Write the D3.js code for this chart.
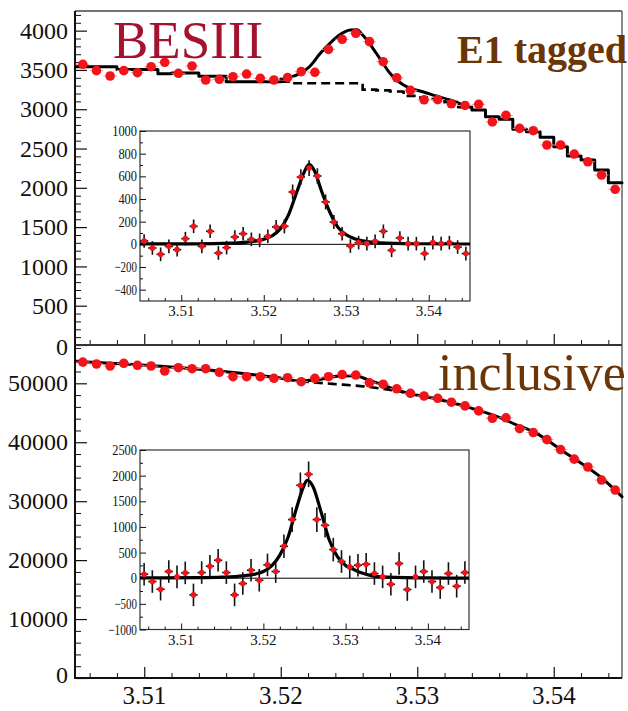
<!DOCTYPE html>
<html>
<head>
<meta charset="utf-8">
<script src="https://cdn.jsdelivr.net/npm/d3@7/dist/d3.min.js"></script>
<style>
  html, body { margin: 0; padding: 0; background: #fff; }
  text { font-family: "Liberation Serif", "Times New Roman", Times, serif; }
</style>
</head>
<body>
<svg id="chart" width="628" height="711"></svg>
<script>
// Invariant-mass bins (GeV), 1 MeV wide
const massBins = [3.5055, 3.5065, 3.5075, 3.5085, 3.5095, 3.5105, 3.5115, 3.5125, 3.5135, 3.5145,
                  3.5155, 3.5165, 3.5175, 3.5185, 3.5195, 3.5205, 3.5215, 3.5225, 3.5235, 3.5245,
                  3.5255, 3.5265, 3.5275, 3.5285, 3.5295, 3.5305, 3.5315, 3.5325, 3.5335, 3.5345,
                  3.5355, 3.5365, 3.5375, 3.5385, 3.5395, 3.5405, 3.5415, 3.5425, 3.5435, 3.5445];
const binWidth = 0.001;

// E1-tagged sample
const e1Counts = [3572, 3491, 3423, 3491, 3465, 3541, 3597, 3457, 3550, 3372,
                  3381, 3414, 3448, 3393, 3372, 3402, 3478, 3470, 3762, 3890,
                  3966, 3860, 3605, 3400, 3240, 3120, 3122, 3070, 3048, 3063,
                  2838, 2922, 2757, 2727, 2545, 2545, 2430, 2332, 2163, 1981];
const e1Background = [3540, 3540, 3540, 3505, 3505, 3505, 3450, 3460, 3460, 3420,
                      3420, 3350, 3350, 3350, 3350, 3350, 3330, 3330, 3330, 3330,
                      3330, 3250, 3240, 3225, 3170, 3150, 3130, 3090, 3030, 2990,
                      2905, 2872, 2744, 2714, 2642, 2523, 2405, 2354, 2227, 2065];
// total fit across the signal region
const e1FitPeak = [[3.5200, 3385], [3.5207, 3406], [3.5214, 3457], [3.5221, 3541], [3.5229, 3712],
                   [3.5236, 3839], [3.5243, 3944], [3.5251, 4008], [3.5256, 4010], [3.5260, 3944],
                   [3.5265, 3839], [3.5270, 3712], [3.5275, 3584], [3.5280, 3457], [3.5285, 3372],
                   [3.5290, 3308], [3.5295, 3266], [3.5304, 3223], [3.5314, 3168], [3.5324, 3117],
                   [3.5335, 3041]];

// Inclusive sample
const inclCounts = [53600, 53275, 52935, 53393, 53054, 52935, 52087, 52652, 52483, 52483,
                    51866, 51120, 51120, 51120, 50849, 50950, 50272, 50849, 51120, 51490,
                    51400, 50080, 49850, 49070, 48303, 47845, 47455, 46790, 46170, 45320,
                    44062, 44150, 42300, 41650, 40440, 38740, 37130, 35800, 33590, 31897];
const inclFit = [[3.5050, 53700], [3.5098, 53105], [3.5147, 52256], [3.5171, 51697], [3.5196, 51018],
                 [3.5214, 50400], [3.5229, 50679], [3.5243, 51239], [3.5255, 51290], [3.5263, 50679],
                 [3.5275, 49712], [3.5287, 48693], [3.5312, 47455], [3.5336, 46030], [3.5360, 44232],
                 [3.5373, 42925], [3.5385, 41788], [3.5409, 38124], [3.5434, 34154], [3.5450, 30760]];
const inclBackground = [[3.5214, 50330], [3.5238, 49900], [3.5263, 49423], [3.5287, 48650]];

// Background-subtracted spectra (insets)
const e1Sub = [30, -32, -88, -18, -47, 50, 159, -18, 115, -76,
               -29, 65, 94, 44, 35, 71, 153, 159, 462, 594,
               673, 603, 374, 197, 94, -15, 15, 6, 26, 115,
               -53, 56, 6, 6, -82, 15, 6, 15, -24, -82];
const e1SubErr = [60, 60, 60, 60, 60, 60, 60, 60, 60, 60,
                  60, 60, 60, 60, 60, 60, 62, 62, 66, 68,
                  70, 68, 66, 62, 60, 60, 60, 60, 60, 60,
                  60, 60, 60, 60, 60, 60, 60, 60, 60, 60];
const e1SubFit = [[3.505, 4], [3.512, 4], [3.516, 10], [3.518, 20], [3.520, 45], [3.521, 75],
                  [3.522, 135], [3.523, 260], [3.524, 460], [3.5248, 620], [3.5255, 705],
                  [3.5262, 640], [3.527, 470], [3.528, 285], [3.529, 150], [3.530, 85],
                  [3.531, 50], [3.532, 30], [3.534, 12], [3.538, 5], [3.545, 3]];

const inclSub = [78, -65, -214, 130, 26, 104, -325, 110, 234, 351,
                 110, -325, -104, 156, -39, 260, 130, 623, 1143, 1812,
                 2026, 1143, 1032, 558, 325, 221, 253, 273, 91, 26,
                 -117, 286, -221, 26, 130, -65, -182, 91, -156, 110];
const inclSubErr = [220, 220, 220, 220, 220, 220, 220, 220, 220, 220,
                    220, 220, 220, 220, 220, 220, 220, 230, 240, 250,
                    250, 240, 240, 230, 220, 220, 220, 220, 220, 220,
                    220, 220, 220, 220, 220, 220, 220, 220, 220, 220];
const inclSubFit = [[3.505, 5], [3.512, 10], [3.515, 20], [3.5175, 45], [3.519, 80], [3.520, 130],
                    [3.521, 240], [3.522, 450], [3.523, 800], [3.524, 1350], [3.5248, 1750],
                    [3.5253, 1910], [3.526, 1800], [3.527, 1300], [3.528, 750], [3.529, 420],
                    [3.530, 250], [3.531, 170], [3.532, 100], [3.533, 55], [3.535, 20],
                    [3.540, 5], [3.545, 3]];

// Axis ticks
const xTicks = [3.51, 3.52, 3.53, 3.54];
const topYTicks = [0, 500, 1000, 1500, 2000, 2500, 3000, 3500, 4000];
const botYTicks = [0, 10000, 20000, 30000, 40000, 50000];
const inset1YTicks = [-400, -200, 0, 200, 400, 600, 800, 1000];
const inset2YTicks = [-1000, -500, 0, 500, 1000, 1500, 2000, 2500];

const svg = d3.select("#chart");
const RED = "#f2141b";
const INK = "#111";

// ---- main scales ----
const x = d3.scaleLinear().domain([3.505, 3.545]).range([76, 622]);
const yTop = d3.scaleLinear().domain([0, 4250]).range([345, 11]);
const yBot = d3.scaleLinear().domain([0, 56500]).range([678, 345]);

const xMinor = d3.range(3.506, 3.5449, 0.002).filter(v => !xTicks.some(t => Math.abs(t - v) < 1e-6));

// Tick marks come from d3.axis; tick labels are set as plain serif text.
function ticks(g, width) {
  g.selectAll(".domain").remove();
  g.selectAll(".tick text").remove();
  g.selectAll(".tick line").attr("stroke", INK).attr("stroke-width", width);
}
function yLabels(scale, values, xRight, size, fmt, opts = {}) {
  svg.append("g").selectAll("text").data(values).join("text")
    .attr("x", xRight).attr("y", d => scale(d)).attr("dy", d => (opts.dyFn ? opts.dyFn(d) : "0.34em"))
    .attr("text-anchor", "end").attr("fill", INK)
    .style("font-size", size + "px")
    .attr("textLength", opts.lenFn ? opts.lenFn : null)
    .attr("lengthAdjust", opts.lenFn ? "spacingAndGlyphs" : null)
    .text(fmt);
}
function xLabels(scale, values, yTop_, size) {
  svg.append("g").selectAll("text").data(values).join("text")
    .attr("x", d => scale(d)).attr("y", yTop_).attr("dy", "0.75em")
    .attr("text-anchor", "middle").attr("fill", INK)
    .style("font-size", size + "px")
    .text(d3.format(".2f"));
}

// left axes
svg.append("g").attr("transform", "translate(76,0)")
  .call(d3.axisLeft(yTop).tickValues(topYTicks).tickSize(-11).tickSizeOuter(0)).call(g => ticks(g, 1.2));
svg.append("g").attr("transform", "translate(76,0)")
  .call(d3.axisLeft(yTop).tickValues(d3.range(100, 4250, 100).filter(v => v % 500)).tickSize(-5).tickSizeOuter(0)).call(g => ticks(g, 1));
svg.append("g").attr("transform", "translate(76,0)")
  .call(d3.axisLeft(yBot).tickValues(botYTicks).tickSize(-11).tickSizeOuter(0)).call(g => ticks(g, 1.2));
svg.append("g").attr("transform", "translate(76,0)")
  .call(d3.axisLeft(yBot).tickValues(d3.range(2000, 56500, 2000).filter(v => v % 10000)).tickSize(-5).tickSizeOuter(0)).call(g => ticks(g, 1));
yLabels(yTop, topYTicks, 68, 24, d3.format("d"), { dyFn: d => (d === 0 ? "0.42em" : "0.34em") });
yLabels(yBot, botYTicks, 68, 24, d3.format("d"), { dyFn: d => (d === 0 ? "0.22em" : "0.34em") });

// bottom axes (ticks pointing into each panel)
svg.append("g").attr("transform", "translate(0,345)")
  .call(d3.axisBottom(x).tickValues(xTicks).tickSize(-11).tickSizeOuter(0)).call(g => ticks(g, 1.2));
svg.append("g").attr("transform", "translate(0,345)")
  .call(d3.axisBottom(x).tickValues(xMinor).tickSize(-5).tickSizeOuter(0)).call(g => ticks(g, 1));
svg.append("g").attr("transform", "translate(0,678)")
  .call(d3.axisBottom(x).tickValues(xTicks).tickSize(-11).tickSizeOuter(0)).call(g => ticks(g, 1.2));
svg.append("g").attr("transform", "translate(0,678)")
  .call(d3.axisBottom(x).tickValues(xMinor).tickSize(-5).tickSizeOuter(0)).call(g => ticks(g, 1));
xLabels(x, xTicks, 685, 25);

// frame lines
svg.append("line").attr("x1", 75).attr("x2", 622).attr("y1", 11).attr("y2", 11).attr("stroke", "#444").attr("stroke-width", 1.5);
svg.append("line").attr("x1", 622).attr("x2", 622).attr("y1", 11).attr("y2", 678).attr("stroke", "#666").attr("stroke-width", 1.5);
svg.append("line").attr("x1", 75).attr("x2", 75).attr("y1", 11).attr("y2", 679).attr("stroke", INK).attr("stroke-width", 2);
svg.append("line").attr("x1", 75).attr("x2", 622).attr("y1", 345).attr("y2", 345).attr("stroke", "#333").attr("stroke-width", 2);
svg.append("line").attr("x1", 75).attr("x2", 622).attr("y1", 678).attr("y2", 678).attr("stroke", INK).attr("stroke-width", 2);

// ---- top panel: E1 tagged ----
const stepLine = d3.line().x(d => x(d[0])).y(d => yTop(d[1]));
function stepVertices(vals, from, to) {
  const pts = [];
  for (let i = from; i <= to; i++) {
    pts.push([massBins[i] - binWidth / 2, vals[i]]);
    pts.push([massBins[i] + binWidth / 2, vals[i]]);
  }
  return pts;
}

const topG = svg.append("g");
// background (dashed) under the signal
topG.append("path").attr("d", stepLine(stepVertices(e1Background, 15, 27)))
  .attr("fill", "none").attr("stroke", "#000").attr("stroke-width", 2.6).attr("stroke-dasharray", "9,5");
// total fit: background steps + signal peak
const solidStyle = p => p.attr("fill", "none").attr("stroke", "#000").attr("stroke-width", 3).attr("stroke-linejoin", "round").attr("stroke-linecap", "round");
topG.append("path").attr("d", stepLine(stepVertices(e1Background, 0, 14))).call(solidStyle);
topG.append("path").attr("d", d3.line().x(d => x(d[0])).y(d => yTop(d[1])).curve(d3.curveMonotoneX)(e1FitPeak)).call(solidStyle);
topG.append("path").attr("d", stepLine(stepVertices(e1Background, 28, 39))).call(solidStyle);

// data points
topG.selectAll("line.herr").data(massBins).join("line")
  .attr("x1", d => x(d - binWidth / 2)).attr("x2", d => x(d + binWidth / 2))
  .attr("y1", (d, i) => yTop(e1Counts[i])).attr("y2", (d, i) => yTop(e1Counts[i]))
  .attr("stroke", "#e9a0a0").attr("stroke-width", 1);
topG.selectAll("circle").data(massBins).join("circle")
  .attr("cx", d => x(d)).attr("cy", (d, i) => yTop(e1Counts[i])).attr("r", 4.8).attr("fill", RED);

// ---- bottom panel: inclusive ----
const botG = svg.append("g");
const botCurve = d3.line().x(d => x(d[0])).y(d => yBot(d[1])).curve(d3.curveMonotoneX);
botG.append("path").attr("d", botCurve(inclBackground))
  .attr("fill", "none").attr("stroke", "#000").attr("stroke-width", 2.6).attr("stroke-dasharray", "9,5");
botG.append("path").attr("d", botCurve(inclFit)).call(solidStyle);
botG.selectAll("line.herr").data(massBins).join("line")
  .attr("x1", d => x(d - binWidth / 2)).attr("x2", d => x(d + binWidth / 2))
  .attr("y1", (d, i) => yBot(inclCounts[i])).attr("y2", (d, i) => yBot(inclCounts[i]))
  .attr("stroke", "#e9a0a0").attr("stroke-width", 1);
botG.selectAll("circle").data(massBins).join("circle")
  .attr("cx", d => x(d)).attr("cy", (d, i) => yBot(inclCounts[i])).attr("r", 4.8).attr("fill", RED);

// ---- insets ----
function drawInset(box, yDomain, yTicks, yMinorStep, vals, errs, fit) {
  const xi = d3.scaleLinear().domain([3.505, 3.545]).range([box.x0, box.x1]);
  const yi = d3.scaleLinear().domain(yDomain).range([box.y1, box.y0]);
  const g = svg.append("g");
  g.append("rect").attr("x", box.x0).attr("y", box.y0)
    .attr("width", box.x1 - box.x0).attr("height", box.y1 - box.y0)
    .attr("fill", "#fff").attr("stroke", "#333").attr("stroke-width", 1.2);

  g.append("g").attr("transform", `translate(${box.x0},0)`)
    .call(d3.axisLeft(yi).tickValues(yTicks).tickSize(-6).tickSizeOuter(0)).call(a => ticks(a, 1));
  const minor = d3.range(yDomain[0] + yMinorStep, yDomain[1], yMinorStep).filter(v => !yTicks.includes(v));
  g.append("g").attr("transform", `translate(${box.x0},0)`)
    .call(d3.axisLeft(yi).tickValues(minor).tickSize(-3).tickSizeOuter(0)).call(a => ticks(a, 1));
  g.append("g").attr("transform", `translate(0,${box.y1})`)
    .call(d3.axisBottom(xi).tickValues(xTicks).tickSize(-6).tickSizeOuter(0)).call(a => ticks(a, 1));
  g.append("g").attr("transform", `translate(0,${box.y1})`)
    .call(d3.axisBottom(xi).tickValues(xMinor).tickSize(-3).tickSizeOuter(0)).call(a => ticks(a, 1));
  // narrow serif tick labels
  yLabels(yi, yTicks, box.x0 - 3, 15, d3.format("d"),
    { lenFn: d => String(Math.abs(d)).length * 6.2 + (d < 0 ? 4 : 0) });
  xLabels(xi, xTicks, box.y1 + 4, 15);

  // zero line and fitted signal
  g.append("line").attr("x1", box.x0).attr("x2", box.x1).attr("y1", yi(0)).attr("y2", yi(0))
    .attr("stroke", "#000").attr("stroke-width", 1);
  g.append("path").attr("d", d3.line().x(d => xi(d[0])).y(d => yi(d[1])).curve(d3.curveMonotoneX)(fit))
    .attr("fill", "none").attr("stroke", "#000").attr("stroke-width", 3.2).attr("stroke-linejoin", "round");

  // points with error bars
  const pts = g.selectAll("g.pt").data(massBins).join("g");
  pts.append("line")
    .attr("x1", d => xi(d)).attr("x2", d => xi(d))
    .attr("y1", (d, i) => yi(vals[i] - errs[i])).attr("y2", (d, i) => yi(vals[i] + errs[i]))
    .attr("stroke", INK).attr("stroke-width", 1.6);
  pts.append("line")
    .attr("x1", d => xi(d - binWidth / 2)).attr("x2", d => xi(d + binWidth / 2))
    .attr("y1", (d, i) => yi(vals[i])).attr("y2", (d, i) => yi(vals[i]))
    .attr("stroke", INK).attr("stroke-width", 1.6);
  pts.append("circle")
    .attr("cx", d => xi(d)).attr("cy", (d, i) => yi(vals[i])).attr("r", 2.8).attr("fill", RED);
}

drawInset({ x0: 140, x1: 470, y0: 131, y1: 301 }, [-500, 1000], inset1YTicks, 100, e1Sub, e1SubErr, e1SubFit);
drawInset({ x0: 140, x1: 469, y0: 450, y1: 629.5 }, [-1000, 2500], inset2YTicks, 250, inclSub, inclSubErr, inclSubFit);

// ---- labels ----
svg.append("text").attr("x", 113).attr("y", 58).text("BESIII")
  .style("font-size", "53px").attr("fill", "#a3132f");
svg.append("text").attr("x", 457).attr("y", 63).text("E1 tagged")
  .style("font-size", "40px").style("font-weight", "bold").attr("fill", "#6b3506");
svg.append("text").attr("x", 438).attr("y", 390).text("inclusive")
  .style("font-size", "52px").attr("fill", "#6b3506");
</script>
</body>
</html>
